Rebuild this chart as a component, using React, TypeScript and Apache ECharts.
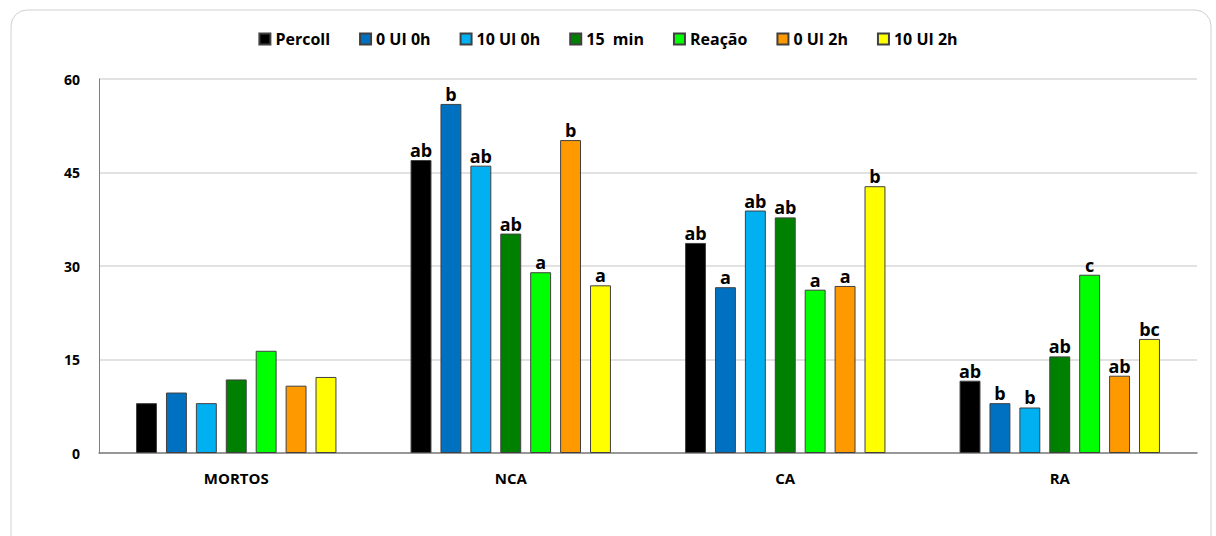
import React, { useEffect, useRef } from "react";
import * as echarts from "echarts";

const categories = ["MORTOS", "NCA", "CA", "RA"];
const seriesNames = ["Percoll", "0 UI 0h", "10 UI 0h", "15  min", "Reação", "0 UI 2h", "10 UI 2h"];
const colors = ["#000000", "#0070C0", "#00B0F0", "#008000", "#00FF00", "#FF9900", "#FFFF00"];

const percoll = [8.0, 47.0, 33.7, 11.6];
const ui0h0 = [9.7, 56.0, 26.6, 8.0];
const ui10h0 = [8.0, 46.1, 38.9, 7.3];
const min15 = [11.8, 35.2, 37.8, 15.5];
const reacao = [16.4, 29.0, 26.2, 28.6];
const ui0h2 = [10.8, 50.2, 26.8, 12.4];
const ui10h2 = [12.2, 26.9, 42.8, 18.3];
const values = [percoll, ui0h0, ui10h0, min15, reacao, ui0h2, ui10h2];

const letters = [
  ["", "ab", "ab", "ab"],
  ["", "b", "a", "b"],
  ["", "ab", "ab", "b"],
  ["", "ab", "ab", "ab"],
  ["", "a", "a", "c"],
  ["", "b", "a", "ab"],
  ["", "a", "b", "bc"],
];

const yTicks = [0, 15, 30, 45, 60];

export default function App() {
  const ref = useRef<HTMLDivElement>(null);
  useEffect(() => {
    if (!ref.current) return;
    const chart = echarts.init(ref.current, null, { renderer: "svg" });
    const font = "'Open Sans', 'Noto Sans', sans-serif";
    chart.setOption({
      animation: false,
      backgroundColor: "#ffffff",
      textStyle: { fontFamily: font },
      graphic: [
        {
          type: "rect",
          shape: { x: 11, y: 10, width: 1200, height: 560, r: 16 },
          style: { fill: "none", stroke: "#d0d0d0", lineWidth: 1 },
          silent: true,
        },
      ],
      legend: {
        top: 26,
        left: "center",
        icon: "rect",
        itemWidth: 11,
        itemHeight: 11,
        itemGap: 29,
        data: seriesNames,
        textStyle: { fontSize: 16, fontWeight: "bold", color: "#000", fontFamily: font },
      },
      grid: { left: 99, right: 19, top: 79, bottom: 83, containLabel: false },
      xAxis: {
        type: "category",
        data: categories,
        axisTick: { show: false },
        axisLine: { lineStyle: { color: "#7f7f7f", width: 1.5 } },
        axisLabel: { fontSize: 15, fontWeight: "bold", color: "#000", margin: 17, fontFamily: font },
      },
      yAxis: {
        type: "value",
        min: yTicks[0],
        max: yTicks[yTicks.length - 1],
        interval: 15,
        axisLine: { show: true, lineStyle: { color: "#7f7f7f", width: 1 } },
        axisTick: { show: false },
        splitLine: { lineStyle: { color: "#d9d9d9", width: 1.5 } },
        axisLabel: { fontSize: 14, fontWeight: "bold", color: "#000", margin: 19, fontFamily: font },
      },
      series: seriesNames.map((name, i) => ({
        name,
        type: "bar",
        data: values[i],
        barGap: "43%",
        barCategoryGap: "27%",
        itemStyle: { color: colors[i], borderColor: "#404040", borderWidth: 1 },
        label: {
          show: true,
          position: "top",
          distance: 1,
          fontSize: 18,
          fontWeight: "bold",
          color: "#000",
          fontFamily: font,
          formatter: (p: any) => letters[i][p.dataIndex],
        },
      })),
    });
    return () => chart.dispose();
  }, []);
  return (
    <div
      ref={ref}
      style={{ position: "fixed", left: 0, top: 0, width: 1216, height: 536 }}
    />
  );
}
